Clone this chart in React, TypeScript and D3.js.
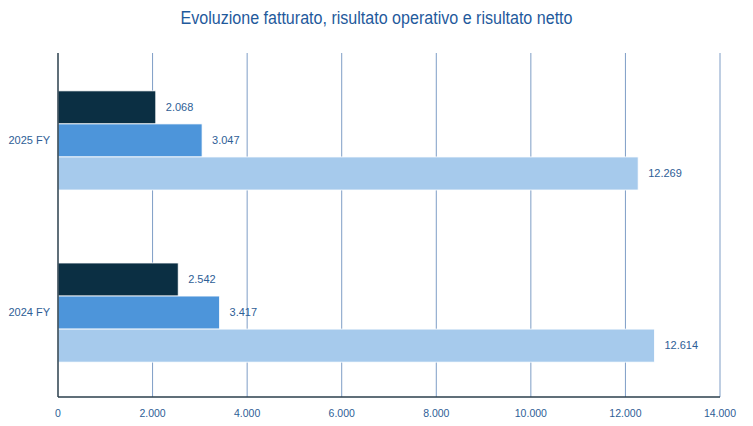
import React from 'react';
import * as d3 from 'd3';

const categories = ['2025 FY', '2024 FY'];
const seriesKeys = ['netto', 'operativo', 'fatturato'];
const risultatoNetto = [2068, 2542];
const risultatoOperativo = [3047, 3417];
const fatturato = [12269, 12614];
const xTicks = [0, 2000, 4000, 6000, 8000, 10000, 12000, 14000];

const colors: Record<string, string> = {
  netto: '#0B2F43',
  operativo: '#4D95DA',
  fatturato: '#A6CAEC',
};

const W = 753;
const H = 426;
const margin = { top: 53, right: 33, bottom: 29, left: 58 };
const textColor = '#2E5E96';
const font = '"Liberation Sans", Arial, sans-serif';

const fmt = (v: number) => d3.format(',')(v).replace(/,/g, '.');

export default function App() {
  const x = d3.scaleLinear().domain([0, 14000]).range([margin.left, W - margin.right]);
  const y0 = d3
    .scaleBand()
    .domain(categories)
    .range([margin.top, 400])
    .paddingInner(0.424)
    .paddingOuter(0.22);
  const y1 = d3.scaleBand().domain(seriesKeys).range([0, y0.bandwidth()]);

  const values: Record<string, number[]> = {
    netto: risultatoNetto,
    operativo: risultatoOperativo,
    fatturato: fatturato,
  };
  const bottom = H - margin.bottom;

  return (
    <svg
      width={W}
      height={H}
      style={{ position: 'absolute', left: 0, top: 0, background: '#fff' }}
      fontFamily={font}
    >
      <text
        x={W / 2}
        y={24}
        textAnchor="middle"
        fill="#1F5A9C"
        fontSize={17.5}
        textLength={392}
        lengthAdjust="spacingAndGlyphs"
      >
        Evoluzione fatturato, risultato operativo e risultato netto
      </text>

      {/* griglia */}
      {xTicks.slice(1).map((t) => (
        <line key={t} x1={x(t)} x2={x(t)} y1={margin.top} y2={bottom} stroke="#7E9DC6" strokeWidth={1} />
      ))}

      {/* barre */}
      {categories.map((c, i) => (
        <g key={c} transform={`translate(0,${y0(c)})`}>
          {seriesKeys.map((k) => (
            <g key={k}>
              <rect
                x={x(0)}
                y={y1(k)}
                width={x(values[k][i]) - x(0)}
                height={y1.bandwidth()}
                fill={colors[k]}
                stroke="#fff"
                strokeWidth={0.8}
              />
              <text
                x={x(values[k][i]) + 10}
                y={(y1(k) || 0) + y1.bandwidth() / 2}
                dy="0.35em"
                fill={textColor}
                fontSize={11}
              >
                {fmt(values[k][i])}
              </text>
            </g>
          ))}
          <text
            x={margin.left - 8}
            y={y0.bandwidth() / 2}
            dy="0.35em"
            textAnchor="end"
            fill={textColor}
            fontSize={11}
          >
            {c}
          </text>
        </g>
      ))}

      {/* assi */}
      <line x1={x(0)} x2={x(0)} y1={margin.top} y2={bottom} stroke="#2B3F4D" strokeWidth={1.5} />
      <line x1={x(0)} x2={x(14000)} y1={bottom} y2={bottom} stroke="#2B3F4D" strokeWidth={1.5} />
      {xTicks.map((t) => (
        <text key={t} x={x(t)} y={417} textAnchor="middle" fill={textColor} fontSize={10.5}>
          {fmt(t)}
        </text>
      ))}
    </svg>
  );
}
